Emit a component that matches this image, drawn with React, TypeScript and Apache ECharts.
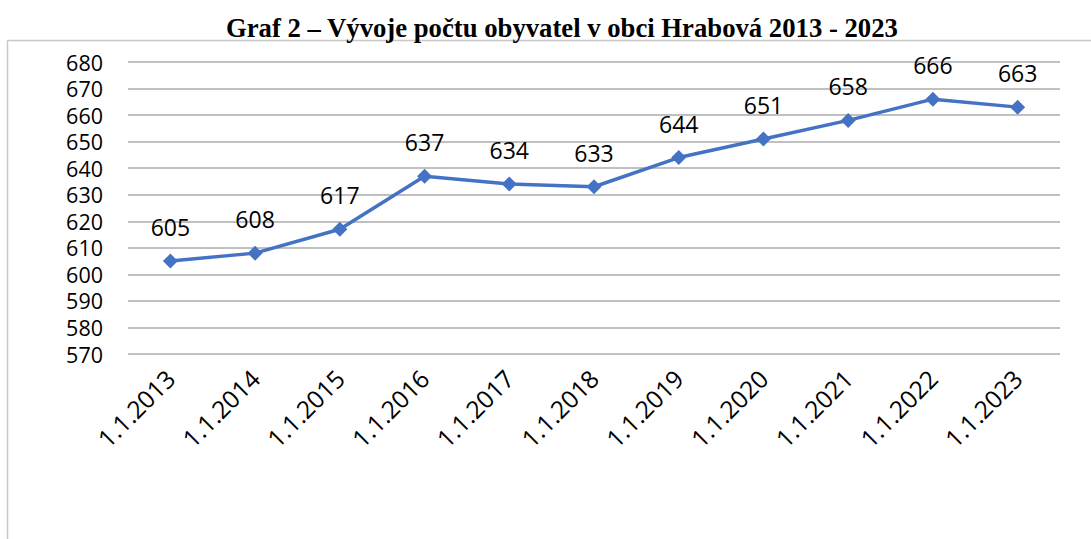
import React, { useEffect, useRef } from "react";
import * as echarts from "echarts";

const categories = ["1.1.2013", "1.1.2014", "1.1.2015", "1.1.2016", "1.1.2017", "1.1.2018", "1.1.2019", "1.1.2020", "1.1.2021", "1.1.2022", "1.1.2023"];
const population = [605, 608, 617, 637, 634, 633, 644, 651, 658, 666, 663];
const titleText = "Graf 2 – Vývoje počtu obyvatel v obci Hrabová 2013 - 2023";

export default function App() {
  const ref = useRef<HTMLDivElement>(null);
  useEffect(() => {
    if (!ref.current) return;
    const chart = echarts.init(ref.current, null, { renderer: "svg" });
    chart.setOption({
      animation: false,
      backgroundColor: "#ffffff",
      title: {
        text: titleText,
        left: 221,
        top: 9,
        textStyle: { fontFamily: "Liberation Serif", fontWeight: "bold", fontSize: 26.7, color: "#000" },
      },
      graphic: [
        { type: "line", shape: { x1: 7.5, y1: 40.5, x2: 1091, y2: 40.5 }, style: { stroke: "#c8c8c8", lineWidth: 1.5 } },
        { type: "line", shape: { x1: 7.5, y1: 40.5, x2: 7.5, y2: 539 }, style: { stroke: "#c8c8c8", lineWidth: 1.5 } },
      ],
      grid: { left: 128, right: 31, top: 62, bottom: 185 },
      xAxis: {
        type: "category",
        data: categories,
        boundaryGap: true,
        axisLine: { show: false },
        axisTick: { show: false },
        axisLabel: {
          rotate: 45,
          margin: 20,
          interval: 0,
          fontFamily: "Open Sans",
          fontSize: 24.5,
          color: "#000",
        },
      },
      yAxis: {
        type: "value",
        min: 570,
        max: 680,
        interval: 10,
        axisLine: { show: false },
        axisTick: { show: false },
        axisLabel: { margin: 25, fontFamily: "Open Sans", fontSize: 21.5, lineHeight: 21, color: "#000" },
        splitLine: { lineStyle: { color: "#ababab", width: 1.5 } },
      },
      series: [
        {
          type: "line",
          data: population,
          symbol: "diamond",
          symbolSize: 15,
          lineStyle: { color: "#4472C4", width: 3.5 },
          itemStyle: { color: "#4472C4" },
          label: {
            show: true,
            position: "top",
            distance: 15,
            fontFamily: "Open Sans",
            fontSize: 23,
            color: "#000",
          },
        },
      ],
    });
    return () => chart.dispose();
  }, []);
  return <div ref={ref} style={{ position: "fixed", left: 0, top: 0, width: 1091, height: 539 }} />;
}
